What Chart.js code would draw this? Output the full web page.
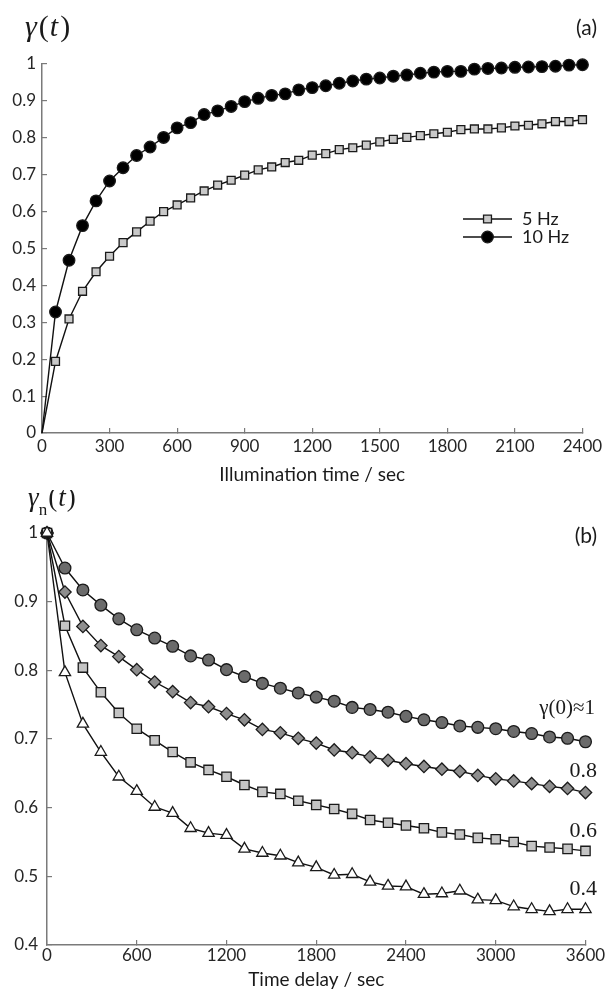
<!DOCTYPE html>
<html>
<head>
<meta charset="utf-8">
<script src="https://cdn.jsdelivr.net/npm/chart.js@4.4.1/dist/chart.umd.min.js"></script>
<style>
  body { margin: 0; background: #fff; width: 611px; height: 993px; overflow: hidden; }
  .panel { position: absolute; left: 0; width: 611px; }
  #panelA { top: 0; height: 490px; }
  #panelB { top: 490px; height: 503px; }
</style>
</head>
<body>
<div class="panel" id="panelA"><canvas id="chartA"></canvas></div>
<div class="panel" id="panelB"><canvas id="chartB"></canvas></div>

<script>
// panel (a): illumination time (s)
var timesA = [0, 60, 120, 180, 240, 300, 360, 420, 480, 540, 600, 660, 720, 780, 840, 900, 960, 1020,
  1080, 1140, 1200, 1260, 1320, 1380, 1440, 1500, 1560, 1620, 1680, 1740, 1800, 1860, 1920, 1980,
  2040, 2100, 2160, 2220, 2280, 2340, 2400];
var hz5 = [0, 0.194, 0.309, 0.384, 0.437, 0.479, 0.516, 0.545, 0.574, 0.600, 0.618, 0.637, 0.656,
  0.672, 0.685, 0.699, 0.713, 0.721, 0.733, 0.739, 0.753, 0.757, 0.768, 0.773, 0.780, 0.789, 0.796,
  0.801, 0.806, 0.811, 0.815, 0.822, 0.824, 0.824, 0.827, 0.832, 0.834, 0.838, 0.844, 0.844, 0.849];
var hz10 = [0, 0.328, 0.468, 0.562, 0.629, 0.683, 0.719, 0.752, 0.775, 0.801, 0.827, 0.841, 0.863,
  0.873, 0.885, 0.898, 0.907, 0.915, 0.919, 0.930, 0.936, 0.941, 0.948, 0.954, 0.959, 0.962, 0.967,
  0.970, 0.975, 0.978, 0.980, 0.980, 0.986, 0.988, 0.989, 0.991, 0.992, 0.993, 0.994, 0.997, 0.998];
var xTicksA = [0, 300, 600, 900, 1200, 1500, 1800, 2100, 2400];
var yTicksA = [0, 0.1, 0.2, 0.3, 0.4, 0.5, 0.6, 0.7, 0.8, 0.9, 1];

// panel (b): time delay (s)
var timesB = [0, 120, 240, 360, 480, 600, 720, 840, 960, 1080, 1200, 1320, 1440, 1560, 1680, 1800,
  1920, 2040, 2160, 2280, 2400, 2520, 2640, 2760, 2880, 3000, 3120, 3240, 3360, 3480, 3600];
var g10 = [1, 0.949, 0.917, 0.895, 0.875, 0.859, 0.847, 0.835, 0.821, 0.815, 0.801, 0.791, 0.781,
  0.774, 0.767, 0.761, 0.755, 0.746, 0.743, 0.739, 0.733, 0.728, 0.724, 0.719, 0.717, 0.715, 0.711,
  0.708, 0.703, 0.701, 0.696];
var g08 = [1, 0.914, 0.864, 0.836, 0.820, 0.801, 0.783, 0.769, 0.753, 0.747, 0.737, 0.728, 0.714,
  0.709, 0.701, 0.694, 0.684, 0.680, 0.674, 0.669, 0.664, 0.660, 0.656, 0.653, 0.647, 0.642, 0.639,
  0.635, 0.631, 0.628, 0.622];
var g06 = [1, 0.865, 0.804, 0.768, 0.738, 0.715, 0.698, 0.681, 0.666, 0.655, 0.645, 0.633, 0.623,
  0.620, 0.610, 0.604, 0.598, 0.591, 0.582, 0.578, 0.574, 0.570, 0.564, 0.561, 0.556, 0.554, 0.550,
  0.544, 0.542, 0.540, 0.537];
var g04 = [1, 0.797, 0.722, 0.681, 0.645, 0.624, 0.601, 0.592, 0.570, 0.563, 0.560, 0.540, 0.534,
  0.530, 0.520, 0.513, 0.502, 0.503, 0.492, 0.486, 0.485, 0.474, 0.475, 0.479, 0.466, 0.465, 0.456,
  0.452, 0.449, 0.452, 0.452];
var xTicksB = [0, 600, 1200, 1800, 2400, 3000, 3600];
var yTicksB = [0.4, 0.5, 0.6, 0.7, 0.8, 0.9, 1];

var SANS = 'Lato';
var SERIF = '"Liberation Serif"';
var AXIS_GREY = '#7a7a7a';

var toPoints = function(xs, ys) {
  return xs.map(function(x, i) { return { x: x, y: ys[i] }; });
};

// draws a run of text pieces (font + optional baseline shift) left to right
var drawRich = function(ctx, parts, x, y, align) {
  var w = 0;
  parts.forEach(function(p) { ctx.font = p.f; w += ctx.measureText(p.t).width + (p.gap || 0); });
  var cx = align === 'right' ? x - w : x;
  parts.forEach(function(p) {
    ctx.font = p.f;
    ctx.fillText(p.t, cx, y + (p.dy || 0));
    cx += ctx.measureText(p.t).width + (p.gap || 0);
  });
};

var textPlugin = {
  id: 'panelText',
  afterDraw: function(chart, args, opts) {
    var ctx = chart.ctx;
    ctx.save();
    ctx.fillStyle = '#1a1a1a';
    ctx.textBaseline = 'alphabetic';
    ctx.textAlign = 'left';
    (opts.items || []).forEach(function(it) {
      drawRich(ctx, it.parts, it.x, it.y, it.align);
    });
    // small legend: line segment with marker, then label
    (opts.legend || []).forEach(function(lg) {
      var ds = chart.data.datasets[lg.index];
      ctx.strokeStyle = ds.borderColor;
      ctx.lineWidth = ds.borderWidth;
      ctx.beginPath();
      ctx.moveTo(lg.x1, lg.y);
      ctx.lineTo(lg.x2, lg.y);
      ctx.stroke();
      ctx.fillStyle = ds.pointBackgroundColor;
      ctx.strokeStyle = ds.pointBorderColor;
      ctx.lineWidth = ds.pointBorderWidth;
      Chart.helpers.drawPoint(ctx, {
        pointStyle: ds.pointStyle, radius: lg.r, rotation: 0, borderWidth: ds.pointBorderWidth
      }, (lg.x1 + lg.x2) / 2, lg.y);
      ctx.fillStyle = '#1a1a1a';
      ctx.font = '18px ' + SANS;
      ctx.textBaseline = 'middle';
      ctx.fillText(ds.label, lg.tx, lg.y);
      ctx.textBaseline = 'alphabetic';
    });
    ctx.restore();
  }
};

var skipFirst = function(r) {
  return function(c) { return c.dataIndex === 0 ? 0 : r; };
};

var series = function(label, xs, ys, style, r, fill, skip) {
  return {
    label: label,
    data: toPoints(xs, ys),
    borderColor: '#111',
    borderWidth: 1.4,
    pointStyle: style,
    pointRadius: skip ? skipFirst(r) : r,
    pointBackgroundColor: fill,
    pointBorderColor: '#1a1a1a',
    pointBorderWidth: 1.3,
    tension: 0,
    clip: false
  };
};

var axes = function(o) {
  return {
    x: {
      type: 'linear', min: o.xMin, max: o.xMax,
      afterBuildTicks: function(s) { s.ticks = o.xTicks.map(function(v) { return { value: v }; }); },
      afterFit: function(s) { s.height = o.xHeight; },
      ticks: {
        font: { family: SANS, size: 17 }, color: '#262626', padding: o.xTickPad, maxRotation: 0,
        callback: function(v) { return String(v); }
      },
      grid: { drawOnChartArea: false, drawTicks: true, tickLength: -5, color: AXIS_GREY, lineWidth: 1.2 },
      border: { color: AXIS_GREY, width: 1.5 },
      title: {
        display: true, text: o.xTitle, color: '#1a1a1a',
        font: { family: SANS, size: 19 }, padding: { top: 0, bottom: o.titlePad }
      }
    },
    y: {
      type: 'linear', min: o.yMin, max: o.yMax,
      afterBuildTicks: function(s) { s.ticks = o.yTicks.map(function(v) { return { value: v }; }); },
      afterFit: function(s) { s.width = o.yWidth; },
      ticks: {
        font: { family: SANS, size: 17 }, color: '#262626', padding: o.yTickPad,
        callback: function(v) { return String(v); }
      },
      grid: { drawOnChartArea: false, drawTicks: true, tickLength: -5, color: AXIS_GREY, lineWidth: 1.2 },
      border: { color: AXIS_GREY, width: 1.5 }
    }
  };
};

var baseOptions = function(padding, scales, textOpts) {
  return {
    responsive: true,
    maintainAspectRatio: false,
    animation: false,
    devicePixelRatio: 1,
    layout: { padding: padding },
    scales: scales,
    plugins: { legend: { display: false }, tooltip: { enabled: false }, panelText: textOpts }
  };
};

var chartA = new Chart(document.getElementById('chartA'), {
  type: 'line',
  data: {
    datasets: [
      series('10 Hz', timesA, hz10, 'circle', 5.8, '#000', true),
      series('5 Hz', timesA, hz5, 'rect', 5.6, '#c9c9c9', true)
    ]
  },
  options: baseOptions(
    { top: 64, right: 25, left: 0, bottom: 0 },
    axes({
      xMin: 0, xMax: 2400, xTicks: xTicksA, xHeight: 57, xTickPad: 8.8, xTitle: 'Illumination time / sec', titlePad: 3.6,
      yMin: 0, yMax: 1, yTicks: yTicksA, yWidth: 42, yTickPad: 11
    }),
    {
      items: [
        { x: 25, y: 36, parts: [
          { t: 'γ', f: 'italic 30px ' + SERIF, gap: 2 },
          { t: '(', f: '30px ' + SERIF, gap: 1 },
          { t: 't', f: 'italic 30px ' + SERIF, gap: 2 },
          { t: ')', f: '30px ' + SERIF }
        ] },
        { x: 597, y: 35, align: 'right', parts: [{ t: '(a)', f: '21px ' + SANS }] }
      ],
      legend: [
        { index: 1, x1: 463, x2: 512, y: 219, r: 5.6, tx: 522 },
        { index: 0, x1: 463, x2: 512, y: 237, r: 5.8, tx: 522 }
      ]
    }
  ),
  plugins: [textPlugin]
});

var chartB = new Chart(document.getElementById('chartB'), {
  type: 'line',
  data: {
    datasets: [
      series('γ(0)≈0.4', timesB, g04, 'triangle', 6.5, '#ffffff', false),
      series('γ(0)≈0.6', timesB, g06, 'rect', 6.6, '#c4c4c4', false),
      series('γ(0)≈0.8', timesB, g08, 'rectRot', 6.2, '#8e8e8e', false),
      series('γ(0)≈1', timesB, g10, 'circle', 5.9, '#6b6b6b', false)
    ]
  },
  options: baseOptions(
    { top: 43, right: 21, left: 0, bottom: 0 },
    axes({
      xMin: 0, xMax: 3600, xTicks: xTicksB, xHeight: 48, xTickPad: 5.8, xTitle: 'Time delay / sec', titlePad: 1.6,
      yMin: 0.4, yMax: 1, yTicks: yTicksB, yWidth: 47, yTickPad: 14
    }),
    {
      items: [
        { x: 28, y: 16, parts: [
          { t: 'γ', f: 'italic 27px ' + SERIF },
          { t: 'n', f: '17px ' + SERIF, dy: 9, gap: 1 },
          { t: '(', f: '27px ' + SERIF, gap: 1 },
          { t: 't', f: 'italic 27px ' + SERIF, gap: 1 },
          { t: ')', f: '27px ' + SERIF }
        ] },
        { x: 597, y: 53, align: 'right', parts: [{ t: '(b)', f: '21px ' + SANS }] },
        { x: 595, y: 224, align: 'right', parts: [{ t: 'γ(0)≈1', f: '21px ' + SERIF }] },
        { x: 597, y: 287, align: 'right', parts: [{ t: '0.8', f: '22px ' + SERIF }] },
        { x: 597, y: 347, align: 'right', parts: [{ t: '0.6', f: '22px ' + SERIF }] },
        { x: 597, y: 405, align: 'right', parts: [{ t: '0.4', f: '22px ' + SERIF }] }
      ]
    }
  ),
  plugins: [textPlugin]
});
</script>
</body>
</html>
